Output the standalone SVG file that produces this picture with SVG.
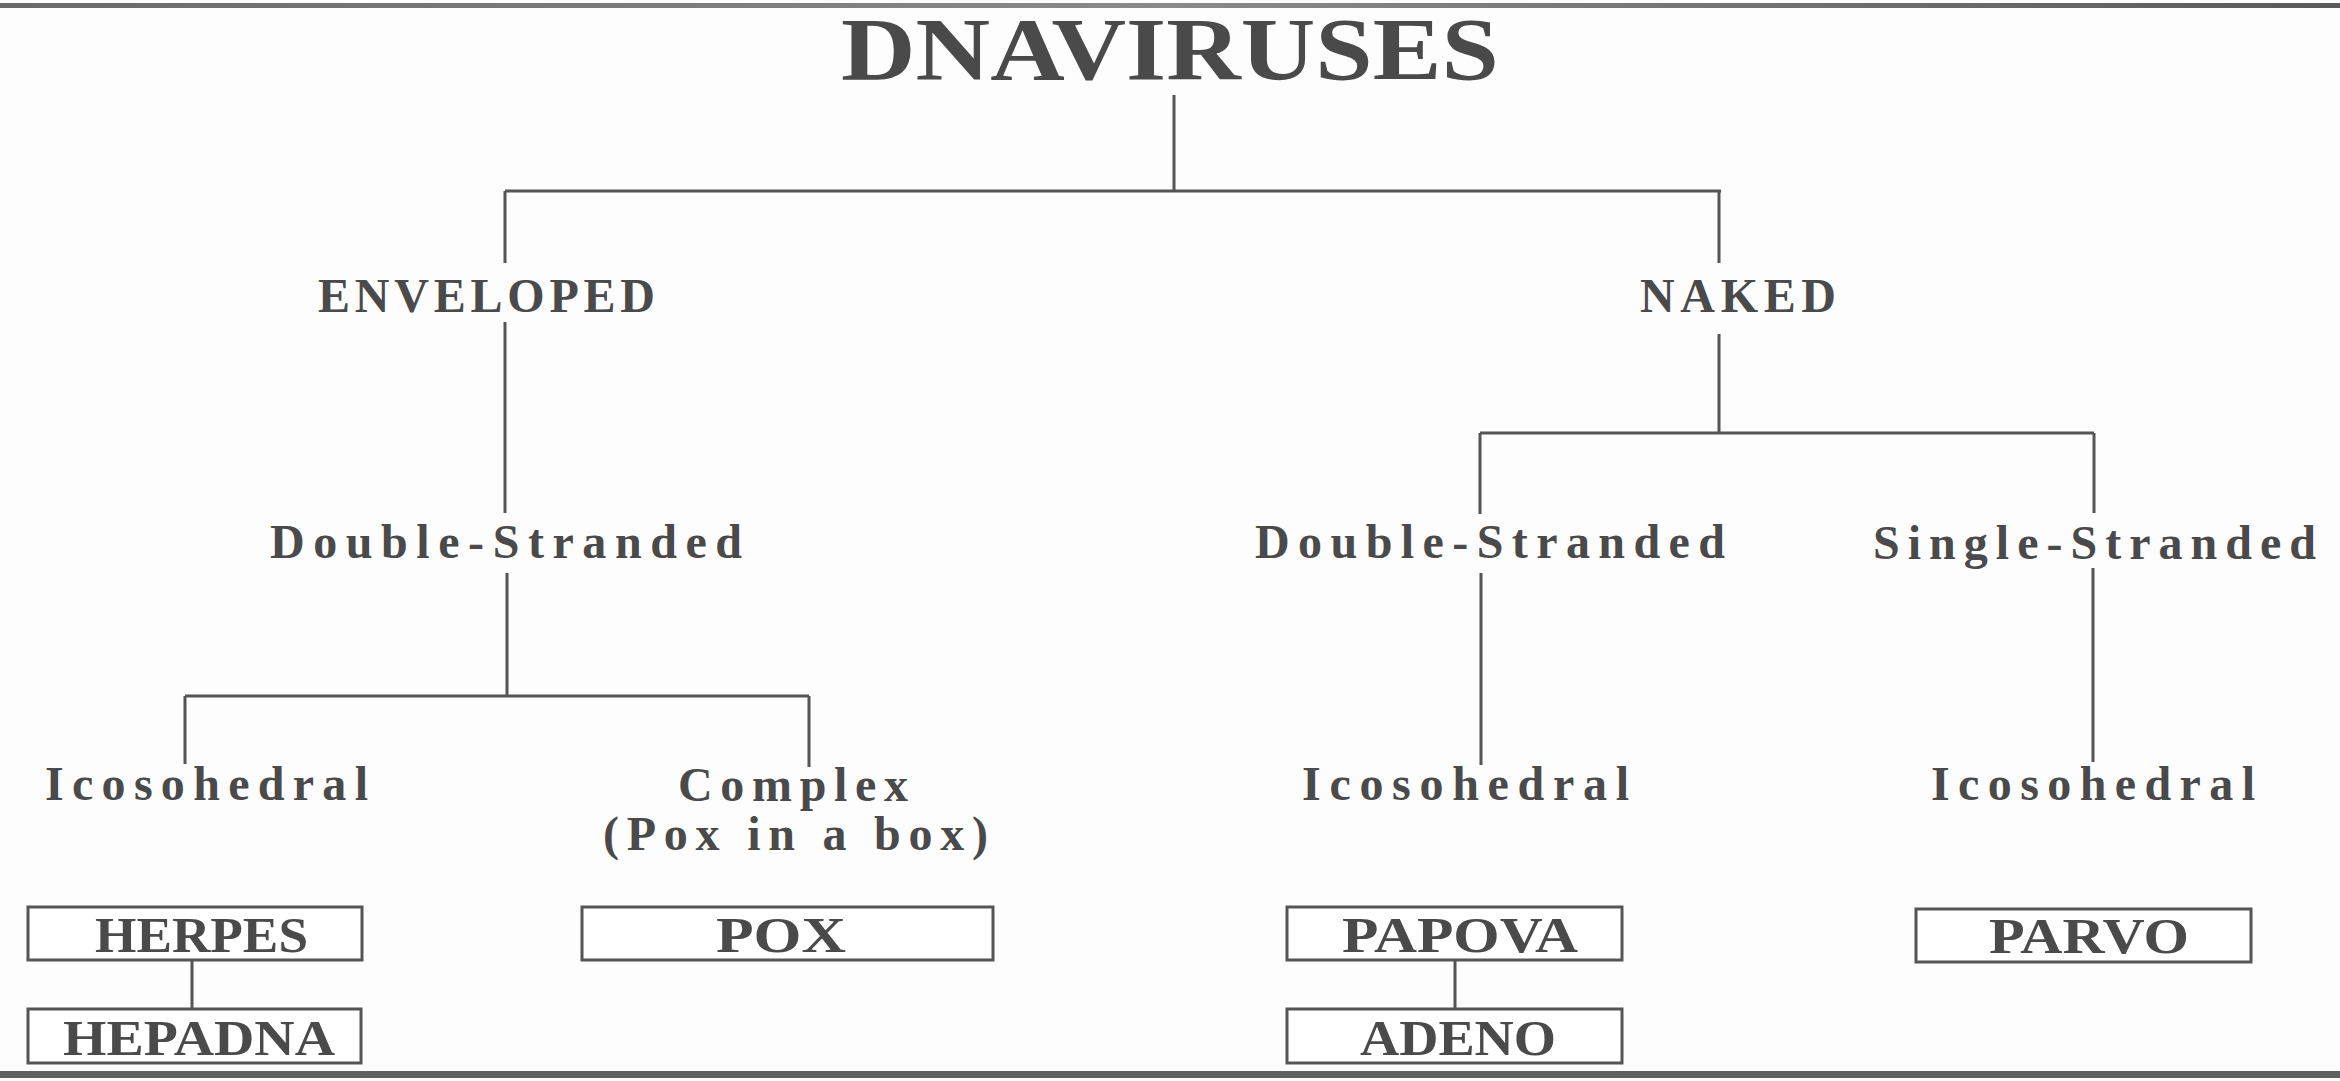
<svg xmlns="http://www.w3.org/2000/svg" width="2340" height="1081" viewBox="0 0 2340 1081">
<defs>
<linearGradient id="topg" x1="0" y1="0" x2="1" y2="0">
<stop offset="0" stop-color="#6a6a6a"/><stop offset="0.5" stop-color="#8a8a8a"/><stop offset="1" stop-color="#5a5a5a"/>
</linearGradient>
</defs>
<style>
text{font-family:"Liberation Serif","Times New Roman",serif;font-weight:bold;fill:#4a4a4a}
.lbl{font-size:48px}
.box text{font-size:51px}
.box rect{fill:#fff;stroke:#555;stroke-width:3}
#connectors path{fill:none;stroke:#555;stroke-width:3}
</style>
<rect x="0" y="0" width="2340" height="1081" fill="#fdfdfd"/>
<rect x="0" y="3" width="2340" height="5" fill="url(#topg)"/>
<rect x="0" y="1071" width="2340" height="7" fill="#606060"/>

<g id="connectors">
<path d="M1174 95 V191 M505 191 H1721 M505 191 V263 M1719 191 V263"/>
<path d="M505 322 V513"/>
<path d="M507 573 V696 M185 696 H809 M185 696 V764 M809 696 V767"/>
<path d="M1719 334 V433 M1480 433 H2094 M1480 433 V514 M2094 433 V513"/>
<path d="M1481 573 V765 M2093 568 V762"/>
<path d="M192 960 V1009 M1455 960 V1009"/>
</g>

<g id="title"><text x="841" y="79" font-size="88" textLength="658" lengthAdjust="spacingAndGlyphs">DNAVIRUSES</text></g>
<g id="enveloped"><text class="lbl" x="318" y="312" textLength="337" lengthAdjust="spacing">ENVELOPED</text></g>
<g id="naked"><text class="lbl" x="1640" y="312" textLength="196" lengthAdjust="spacing">NAKED</text></g>
<g id="ds-left"><text class="lbl" x="270" y="558" textLength="472" lengthAdjust="spacing">Double-Stranded</text></g>
<g id="ds-right"><text class="lbl" x="1255" y="558" textLength="470" lengthAdjust="spacing">Double-Stranded</text></g>
<g id="ss-right"><text class="lbl" x="1873" y="559" textLength="443" lengthAdjust="spacing">Single-Stranded</text></g>
<g id="ico-left"><text class="lbl" x="45" y="800" textLength="323" lengthAdjust="spacing">Icosohedral</text></g>
<g id="complex"><text class="lbl" x="678" y="801" textLength="230" lengthAdjust="spacing">Complex</text><text class="lbl" x="603" y="850" textLength="385" lengthAdjust="spacing">(Pox in a box)</text></g>
<g id="ico-mid"><text class="lbl" x="1302" y="800" textLength="327" lengthAdjust="spacing">Icosohedral</text></g>
<g id="ico-right"><text class="lbl" x="1931" y="800" textLength="324" lengthAdjust="spacing">Icosohedral</text></g>

<g id="herpes" class="box"><rect x="28" y="907" width="334" height="53"/><text x="95" y="952" textLength="213" lengthAdjust="spacingAndGlyphs">HERPES</text></g>
<g id="hepadna" class="box"><rect x="28" y="1009" width="333" height="54"/><text x="63" y="1055" textLength="272" lengthAdjust="spacingAndGlyphs">HEPADNA</text></g>
<g id="pox" class="box"><rect x="582" y="907" width="411" height="53"/><text x="716" y="952" textLength="130" lengthAdjust="spacingAndGlyphs">POX</text></g>
<g id="papova" class="box"><rect x="1287" y="907" width="335" height="53"/><text x="1342" y="952" textLength="236" lengthAdjust="spacingAndGlyphs">PAPOVA</text></g>
<g id="adeno" class="box"><rect x="1287" y="1009" width="335" height="54"/><text x="1360" y="1055" textLength="196" lengthAdjust="spacingAndGlyphs">ADENO</text></g>
<g id="parvo" class="box"><rect x="1916" y="909" width="335" height="53"/><text x="1989" y="953" textLength="200" lengthAdjust="spacingAndGlyphs">PARVO</text></g>
</svg>
